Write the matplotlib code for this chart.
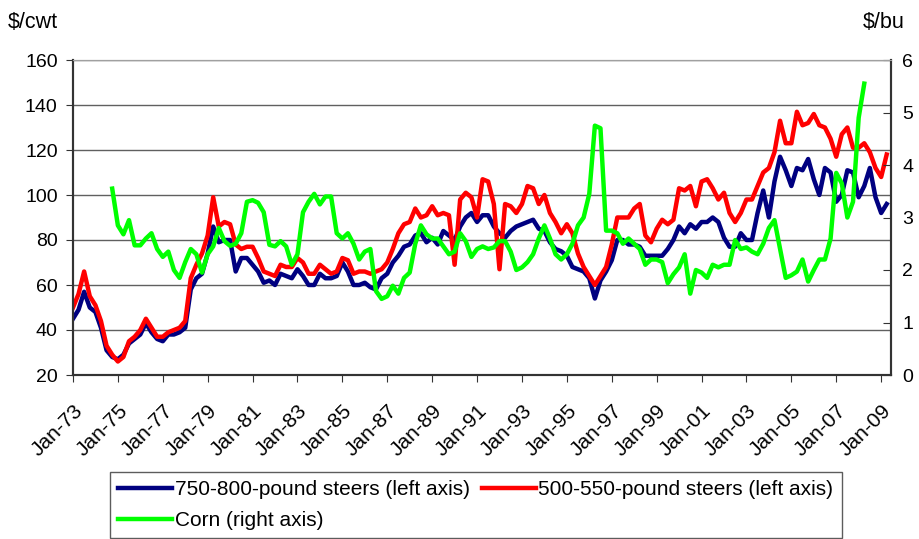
import numpy as np
import pandas as pd
import matplotlib
matplotlib.use('Agg')
import matplotlib.pyplot as plt
import matplotlib.dates as mdates

plt.rcParams['font.family'] = ['Liberation Sans', 'DejaVu Sans']

# quarterly observations, Jan-73 .. Apr-09
dates = pd.date_range('1973-01-01', periods=146, freq='QS')
tick_dates = pd.date_range('1973-01-01', '2009-01-01', freq='24MS')

# 750-800-pound steers, $/cwt
heavy_steers = [
    45, 49, 57, 50,  48, 41, 31, 28,  27, 29, 34, 36,  38, 43, 39, 36,
    35, 38, 38, 39,  41, 58, 63, 65,  74, 86, 79, 80,  80, 66, 72, 72,
    69, 66, 61, 62,  60, 65, 64, 63,  67, 64, 60, 60,  65, 63, 63, 64,
    70, 66, 60, 60,  61, 59, 58, 63,  65, 70, 73, 77,  78, 82, 83, 79,
    81, 78, 84, 82,  80, 86, 90, 92,  88, 91, 91, 86,  83, 81, 84, 86,
    87, 88, 89, 85,  84, 79, 76, 75,  73, 68, 67, 66,  63, 54, 62, 66,
    71, 80, 80, 78,  78, 77, 73, 73,  73, 73, 76, 80,  86, 83, 87, 85,
    88, 88, 90, 88,  81, 77, 77, 83,  80, 80, 92, 102, 90, 106, 117, 111,
    104, 112, 111, 116, 107, 100, 112, 110, 97, 100, 111, 110, 99, 104, 112, 99,
    92, 96,
]

# 500-550-pound steers, $/cwt
light_steers = [
    50, 56, 66, 55,  51, 44, 33, 29,  26, 28, 35, 37,  40, 45, 41, 37,
    37, 39, 40, 41,  44, 63, 69, 74,  82, 99, 86, 88,  87, 78, 76, 77,
    77, 72, 66, 65,  64, 69, 68, 68,  72, 70, 65, 65,  69, 67, 65, 66,
    72, 71, 65, 66,  66, 65, 66, 67,  70, 76, 83, 87,  88, 94, 90, 91,
    95, 91, 92, 91,  69, 98, 101, 99,  90, 107, 106, 96,  67, 96, 95, 92,
    96, 104, 103, 96,  100, 92, 88, 83,  87, 83, 74, 68,  64, 60, 64, 68,
    78, 90, 90, 90,  94, 96, 82, 79,  85, 89, 87, 89,  103, 102, 104, 95,
    106, 107, 103, 98,  101, 92, 88, 92,  98, 98, 104, 110,  112, 119, 133, 123,
    123, 137, 131, 132,  136, 131, 130, 125,  117, 127, 130, 121,  121, 123, 119, 112,
    108, 118,
]

# corn, $/bu
nan = np.nan
corn = [
    nan, nan, nan, nan,  nan, nan, nan, 3.55,  2.85, 2.68, 2.95, 2.47,  2.47, 2.6, 2.7, 2.4,
    2.25, 2.35, 2.0, 1.85,  2.15, 2.4, 2.3, 1.95,  2.3, 2.45, 2.8, 2.55,  2.46, 2.5, 2.7, 3.3,
    3.33, 3.28, 3.1, 2.48,  2.45, 2.55, 2.45, 2.1,  2.3, 3.1, 3.3, 3.45,  3.25, 3.4, 3.4, 2.7,
    2.6, 2.7, 2.5, 2.2,  2.35, 2.4, 1.6, 1.45,  1.5, 1.7, 1.55, 1.85,  1.95, 2.5, 2.85, 2.68,
    2.6, 2.6, 2.45, 2.3,  2.35, 2.7, 2.55, 2.25,  2.4, 2.45, 2.4, 2.43,  2.55, 2.55, 2.35, 2.0,
    2.05, 2.15, 2.3, 2.6,  2.85, 2.6, 2.3, 2.2,  2.3, 2.5, 2.85, 3.0,  3.45, 4.75, 4.7, 2.75,
    2.75, 2.7, 2.5, 2.6,  2.5, 2.4, 2.1, 2.2,  2.2, 2.15, 1.75, 1.92,  2.05, 2.3, 1.55, 2.0,
    1.95, 1.85, 2.1, 2.05,  2.1, 2.1, 2.57, 2.4,  2.43, 2.35, 2.3, 2.5,  2.8, 2.95, 2.4, 1.85,
    1.9, 1.97, 2.2, 1.78,  2.0, 2.2, 2.2, 2.6,  3.85, 3.65, 3.0, 3.3,  4.9, 5.55, nan, nan,
    nan, nan,
]

fs = 14
fig = plt.figure(figsize=(9.2, 5.39), dpi=100)
ax = fig.add_axes([73 / 920, 1 - 375 / 539, 818 / 920, 315 / 539])
ax2 = ax.twinx()

l1, = ax.plot(dates, heavy_steers, color='#000080', lw=3.2, solid_joinstyle='round')
l2, = ax.plot(dates, light_steers, color='#ff0000', lw=3.2, solid_joinstyle='round')
l3, = ax2.plot(dates, corn, color='#00ff00', lw=3.2, solid_joinstyle='round')

ax.set_ylim(20, 160)
ax.set_yticks(range(20, 161, 20))
ax2.set_ylim(0, 6)
ax2.set_yticks(range(0, 7))
ax.set_xlim(pd.Timestamp('1973-01-01'), pd.Timestamp('2009-06-10'))

ax.yaxis.grid(True, color='#606060', lw=1)
ax.set_axisbelow(True)
ax.set_xticks(tick_dates)
ax.xaxis.set_major_formatter(mdates.DateFormatter('%b-%y'))
plt.setp(ax.get_xticklabels(), rotation=45, ha='right', rotation_mode='anchor')

ax.tick_params(axis='y', direction='out', length=5, labelsize=fs, color='#333333', pad=6)
ax.tick_params(axis='x', direction='out', length=5, labelsize=15, color='#333333', pad=14)
ax2.tick_params(axis='y', direction='in', length=6, labelsize=fs, color='#333333', pad=8)

for a in (ax, ax2):
    a.spines['top'].set_color('#a0a0a0')
    a.spines['left'].set_color('#333333')
    a.spines['right'].set_color('#333333')
    a.spines['bottom'].set_color('#333333')
    a.spines['left'].set_linewidth(1.5)
    a.spines['right'].set_linewidth(1.5)
    a.spines['bottom'].set_linewidth(1.5)

fig.text(8 / 920, 1 - 22 / 539, '$/cwt', fontsize=15.5, va='center', ha='left')
fig.text(905 / 920, 1 - 22 / 539, '$/bu', fontsize=15.5, va='center', ha='right')

# column-major fill: first column gets heavy steers and corn
leg = fig.legend([l1, l3, l2],
                 ['750-800-pound steers (left axis)', 'Corn (right axis)',
                  '500-550-pound steers (left axis)'],
                 loc='upper left', bbox_to_anchor=(110 / 920, 1 - 472 / 539),
                 ncol=2, fontsize=15, frameon=True, fancybox=False,
                 handlelength=2.6, handletextpad=0.1, columnspacing=0.6,
                 labelspacing=0.55, borderpad=0.4, borderaxespad=0)
leg.get_frame().set_edgecolor('#333333')
leg.get_frame().set_linewidth(1)

fig.savefig('out.png', dpi=100)
